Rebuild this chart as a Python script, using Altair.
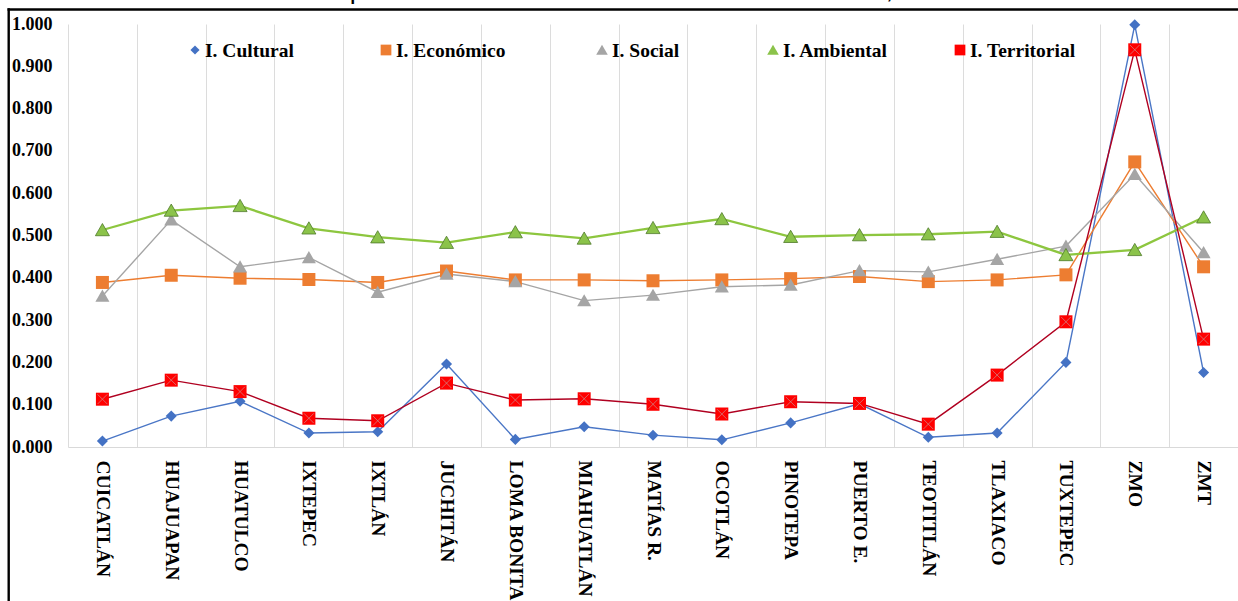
import altair as alt
import pandas as pd

categories = ["CUICATLÁN", "HUAJUAPAN", "HUATULCO", "IXTEPEC", "IXTLÁN", "JUCHITÁN",
              "LOMA BONITA", "MIAHUATLÁN", "MATÍAS R.", "OCOTLÁN", "PINOTEPA", "PUERTO E.",
              "TEOTITLÁN", "TLAXIACO", "TUXTEPEC", "ZMO", "ZMT"]
series_names = ["I. Cultural", "I. Económico", "I. Social", "I. Ambiental", "I. Territorial"]

cultural = [0.014, 0.073, 0.108, 0.033, 0.036, 0.196, 0.018, 0.048, 0.028, 0.017, 0.057,
            0.102, 0.023, 0.033, 0.200, 0.998, 0.176]
economico = [0.389, 0.406, 0.399, 0.396, 0.389, 0.416, 0.395, 0.395, 0.393, 0.395, 0.398,
             0.403, 0.391, 0.395, 0.407, 0.674, 0.426]
social = [0.357, 0.537, 0.426, 0.448, 0.366, 0.409, 0.391, 0.346, 0.359, 0.379, 0.383,
          0.417, 0.414, 0.444, 0.475, 0.645, 0.460]
ambiental = [0.513, 0.559, 0.570, 0.517, 0.496, 0.483, 0.508, 0.493, 0.518, 0.539, 0.497,
             0.501, 0.503, 0.509, 0.454, 0.466, 0.543]
territorial = [0.113, 0.158, 0.131, 0.068, 0.062, 0.151, 0.111, 0.114, 0.101, 0.078, 0.107,
               0.103, 0.054, 0.170, 0.296, 0.939, 0.255]

title_text = "Gráfica 1. Componentes del Índice de Desarrollo Sostenible, 2000-2010"
y_ticks = [0.0, 0.1, 0.2, 0.3, 0.4, 0.5, 0.6, 0.7, 0.8, 0.9, 1.0]

marker_colors = ["#4472C4", "#ED7D31", "#A5A5A5", "#8BC34A", "#FF0000"]
line_colors = ["#4A76C6", "#ED7D31", "#A5A5A5", "#8DC63F", "#B00020"]
DIAMOND = "M0,-0.85L0.85,0L0,0.85L-0.85,0Z"
TRIANGLE = "M0,-1L1.08,0.88L-1.08,0.88Z"
SQUARE = "M-1,-1L1,-1L1,1L-1,1Z"
XMARK = "M-0.75,-0.75L0.75,0.75M-0.75,0.75L0.75,-0.75"
shapes = [DIAMOND, SQUARE, TRIANGLE, TRIANGLE, SQUARE]

all_values = [cultural, economico, social, ambiental, territorial]
rows = []
for s_i, (name, vals) in enumerate(zip(series_names, all_values)):
    for c, v in zip(categories, vals):
        rows.append({"cat": c, "serie": name, "linea": name, "valor": v, "orden": s_i})
df = pd.DataFrame(rows)

W, H = 1170, 423
SERIF = "Liberation Serif"
SERIF_STACK = "'Liberation Serif', 'DejaVu Serif', serif"

x_enc = alt.X("cat:N", sort=categories, scale=alt.Scale(paddingInner=0, paddingOuter=0),
              axis=alt.Axis(title=None, labelAngle=90, labelAlign="left", labelBaseline="middle",
                            labelPadding=13, ticks=False, domainColor="#D9D9D9", domainWidth=1,
                            grid=True, gridColor="#DCDCDC", gridWidth=1, tickBand="extent",
                            labelFont=SERIF, labelFontWeight="bold", labelFontSize=19.5,
                            labelColor="black", labelOverlap=False))
y_enc = alt.Y("valor:Q", scale=alt.Scale(domain=[0, 1], nice=False, zero=True),
              axis=alt.Axis(title=None, values=y_ticks, format=".3f", grid=False, ticks=False,
                            domain=False, labelPadding=16, labelFont=SERIF,
                            labelFontWeight="bold", labelFontSize=18, labelColor="black"))

base = alt.Chart(df)

lines = base.mark_line().encode(
    x=x_enc, y=y_enc,
    stroke=alt.Stroke("linea:N", sort=series_names,
                      scale=alt.Scale(domain=series_names, range=line_colors), legend=None),
    strokeWidth=alt.condition(alt.datum.serie == "I. Ambiental", alt.value(2.3), alt.value(1.4)),
    order="orden:Q",
)

points = base.mark_point(filled=True, opacity=1, strokeWidth=0, size=169).encode(
    x=x_enc, y=y_enc,
    color=alt.Color("serie:N", sort=series_names,
                    scale=alt.Scale(domain=series_names, range=marker_colors), legend=None),
    shape=alt.Shape("serie:N", sort=series_names,
                    scale=alt.Scale(domain=series_names, range=shapes), legend=None),
    order="orden:Q",
)

amb_outline = base.transform_filter(alt.datum.serie == "I. Ambiental").mark_point(
    shape=TRIANGLE, filled=False, stroke="#4E7A2A", strokeWidth=0.8, size=169, opacity=1
).encode(x=x_enc, y=y_enc)

terr_x = base.transform_filter(alt.datum.serie == "I. Territorial").mark_point(
    shape=XMARK, filled=False, stroke="#C89090", strokeWidth=0.7, size=169, opacity=1
).encode(x=x_enc, y=y_enc)

# hand-built legend (inside the plot, Excel style)
one = pd.DataFrame({"t": [title_text]})
legend_marker_x = [127, 318, 534, 705, 892]
legend_y = 26
legend_layers = []
for i, name in enumerate(series_names):
    legend_layers.append(
        alt.Chart(one).mark_point(filled=True, opacity=1, strokeWidth=0, size=115,
                                  shape=shapes[i], color=marker_colors[i]).encode(
            x=alt.value(legend_marker_x[i]), y=alt.value(legend_y)))
    legend_layers.append(
        alt.Chart(one).mark_text(font=SERIF_STACK, fontWeight="bold", fontSize=19.5,
                                 align="left", baseline="middle", color="black").encode(
            text=alt.value(name), x=alt.value(legend_marker_x[i] + 10), y=alt.value(legend_y + 1)))

title = alt.Chart(one).mark_text(font="Liberation Sans", fontSize=27, align="center",
                                 baseline="alphabetic", color="black").encode(
    text="t:N", x=alt.value(531), y=alt.value(-26.5))

frame_top = alt.Chart(one).mark_rect(color="black").encode(
    x=alt.value(-60.5), x2=alt.value(W + 10), y=alt.value(-15.8), y2=alt.value(-13.2))
frame_left = alt.Chart(one).mark_rect(color="black").encode(
    x=alt.value(-60.5), x2=alt.value(-58.1), y=alt.value(-15.8), y2=alt.value(H + 160))

chart = alt.layer(lines, points, amb_outline, terr_x, *legend_layers, title, frame_top,
                  frame_left).properties(
    width=W, height=H,
    padding={"left": 68, "top": 24, "right": 0, "bottom": 154},
    autosize=alt.AutoSizeParams(type="none"),
    background="white",
).configure_view(stroke=None)

chart.save("out.html", embed_options={"renderer": "svg", "actions": False})
